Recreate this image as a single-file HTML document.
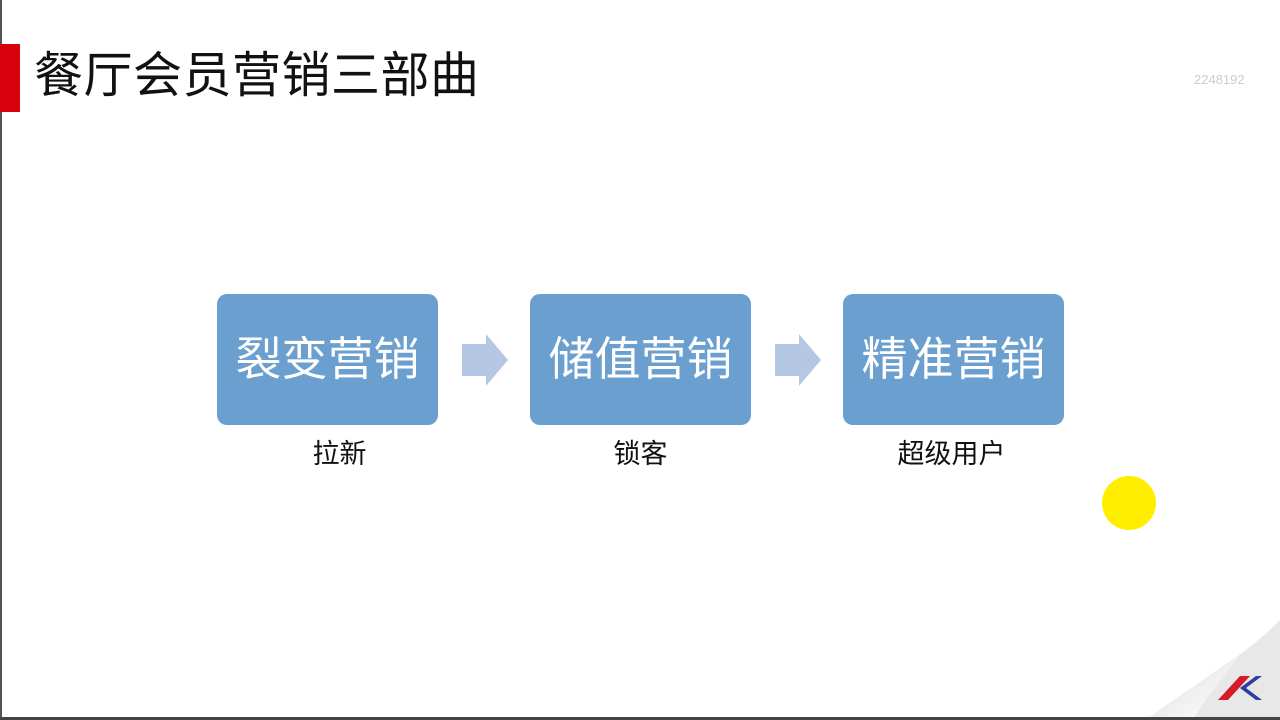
<!DOCTYPE html>
<html><head><meta charset="utf-8"><style>
html,body{margin:0;padding:0;}
body{width:1280px;height:720px;position:relative;overflow:hidden;background:#fff;font-family:"Liberation Sans","Noto Sans CJK SC",sans-serif;}
.bar{position:absolute;left:0;top:44px;width:20px;height:68px;background:#d9000d;}
.title{position:absolute;left:34px;top:46px;font-size:49px;line-height:60px;color:#111;letter-spacing:0.5px;}
.box{position:absolute;top:294px;width:221px;height:131px;background:#6b9fcf;border-radius:10px;color:#fff;font-size:46px;line-height:131px;text-align:center;}
.lbl{position:absolute;top:438px;width:221px;text-align:center;font-size:27px;color:#111;line-height:32px;}
.wm{position:absolute;left:1194px;top:72px;font-size:13px;color:#ccc;}
</style></head><body>
<div style="position:absolute;left:0;top:0;width:2px;height:720px;background:#555"></div>
<div style="position:absolute;left:0;top:717px;width:1280px;height:3px;background:#444"></div>
<div class="bar"></div>
<div class="title">餐厅会员营销三部曲</div>
<div class="wm">2248192</div>
<div class="box" style="left:217px">裂变营销</div>
<div class="box" style="left:530px">储值营销</div>
<div class="box" style="left:843px">精准营销</div>
<div class="lbl" style="left:229px">拉新</div>
<div class="lbl" style="left:530px">锁客</div>
<div class="lbl" style="left:841px">超级用户</div>
<svg width="1280" height="720" style="position:absolute;left:0;top:0">
<polygon points="462,344 486,344 486,334 508,360 486,386 486,376 462,376" fill="#b5c8e3"/>
<polygon points="775,344 799,344 799,334 821,360 799,386 799,376 775,376" fill="#b5c8e3"/>
<circle cx="1129" cy="503" r="27" fill="#ffee00"/>
<defs><linearGradient id="g" x1="0" y1="0" x2="1" y2="1"><stop offset="0" stop-color="#888"/><stop offset="0.5" stop-color="#eee"/><stop offset="1" stop-color="#fff"/></linearGradient></defs>
<path d="M1150,717 C1200,680 1240,660 1280,620 L1280,717 Z" fill="#e8e8e8"/>
<path d="M1150,717 C1190,690 1215,670 1240,655 C1230,670 1210,690 1195,717 Z" fill="url(#g)"/>
<polygon points="1218,700 1240,676 1250,676 1228,700" fill="#d51a2a"/>
<polygon points="1262,676 1246,688 1262,700 1256,700 1240,688 1256,676" fill="#2c3ea0"/>
</svg>
</body></html>
